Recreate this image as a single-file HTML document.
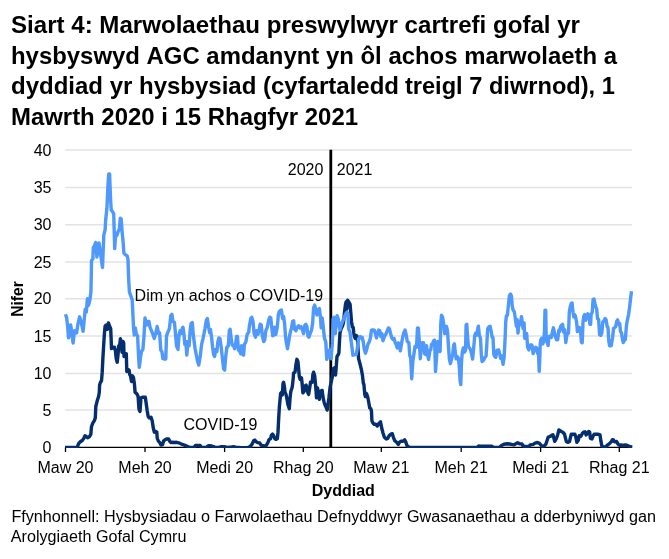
<!DOCTYPE html>
<html><head><meta charset="utf-8">
<style>
html,body{margin:0;padding:0;background:#fff;}
body{width:669px;height:559px;overflow:hidden;font-family:"Liberation Sans",sans-serif;color:#000;}
svg{display:block;will-change:transform;}
text{font-family:"Liberation Sans",sans-serif;fill:#000;font-kerning:none;}
.t{font-size:24px;font-weight:bold;}
.a{font-size:16px;}
.b{font-size:16px;font-weight:bold;}
.s{font-size:16px;}
</style></head><body>
<svg width="669" height="559" viewBox="0 0 669 559">
<rect width="669" height="559" fill="#fff"/>
<g class="t">
<text x="11" y="33" textLength="569" lengthAdjust="spacingAndGlyphs">Siart 4: Marwolaethau preswylwyr cartrefi gofal yr</text>
<text x="11" y="63.5" textLength="606" lengthAdjust="spacingAndGlyphs">hysbyswyd AGC amdanynt yn ôl achos marwolaeth a</text>
<text x="11" y="94" textLength="388" lengthAdjust="spacingAndGlyphs">dyddiad yr hysbysiad (cyfartaledd</text>
<text x="404.9" y="94" textLength="210" lengthAdjust="spacingAndGlyphs">treigl 7 diwrnod), 1</text>
<text x="11" y="124.5" textLength="347" lengthAdjust="spacingAndGlyphs">Mawrth 2020 i 15 Rhagfyr 2021</text>
</g>
<path d="M65.2 150.0H632M65.2 187.5H632M65.2 224.7H632M65.2 262.0H632M65.2 298.7H632M65.2 336.1H632M65.2 373.4H632M65.2 410.1H632" stroke="#e3e3e3" stroke-width="1.5" fill="none"/>
<path d="M65 447.3H632M65.5 447.3V452M145.0 447.3V452M224.6 447.3V452M303.3 447.3V452M381.3 447.3V452M461.2 447.3V452M540.6 447.3V452M619.3 447.3V452" stroke="#000" stroke-width="1.3" fill="none"/>
<g class="a" text-anchor="end"><text x="51.5" y="155.7">40</text><text x="51.5" y="193.2">35</text><text x="51.5" y="230.3">30</text><text x="51.5" y="267.6">25</text><text x="51.5" y="304.3">20</text><text x="51.5" y="341.7">15</text><text x="51.5" y="379.0">10</text><text x="51.5" y="415.8">5</text><text x="51.5" y="452.9">0</text></g>
<g class="a" text-anchor="middle"><text x="65.5" y="472.6">Maw 20</text><text x="145.0" y="472.6">Meh 20</text><text x="224.6" y="472.6">Medi 20</text><text x="303.3" y="472.6">Rhag 20</text><text x="381.3" y="472.6">Maw 21</text><text x="461.2" y="472.6">Meh 21</text><text x="540.6" y="472.6">Medi 21</text><text x="619.3" y="472.6">Rhag 21</text></g>
<text class="b" x="311.7" y="496" style="font-size:15.6px" textLength="63.2" lengthAdjust="spacingAndGlyphs">Dyddiad</text>
<text class="b" style="font-size:15.6px" transform="translate(22.5,299) rotate(-90)" text-anchor="middle">Nifer</text>
<path d="M330.8 149.7V447.3" stroke="#000" stroke-width="2.8" fill="none"/>
<text class="a" x="323.4" y="174.6" text-anchor="end">2020</text>
<text class="a" x="336.8" y="174.6">2021</text>
<text class="a" x="134.6" y="300.5">Dim yn achos o COVID-19</text>
<text class="a" x="183.5" y="429.7">COVID-19</text>
<clipPath id="c"><rect x="60" y="140" width="580" height="307.9"/></clipPath>
<g clip-path="url(#c)">
<path d="M65.0 447.4 77.2 447.4 78.6 443.7 80.0 442.0 82.2 440.5 83.6 438.7 85.0 435.8 86.2 436.5 87.6 437.7 89.3 436.8 90.8 434.4 91.5 426.5 92.9 422.9 94.3 420.8 95.3 417.9 95.8 406.5 97.2 400.8 98.6 396.5 99.3 392.3 99.6 385.1 100.5 382.3 101.5 380.8 102.2 372.2 102.9 357.9 103.6 346.5 104.4 333.6 105.1 326.2 106.2 325.0 107.4 329.3 108.4 322.9 109.4 325.7 110.7 328.6 111.1 337.9 111.5 348.6 112.9 347.2 114.4 347.2 115.4 350.8 116.2 358.6 117.2 362.2 118.0 355.1 118.7 345.8 119.7 345.1 120.4 338.6 121.2 342.2 122.0 352.2 123.0 341.5 123.7 342.9 124.0 356.5 125.1 353.6 126.3 353.6 126.8 371.5 128.0 369.4 129.1 370.1 129.7 374.4 130.5 375.8 131.5 381.5 132.5 375.8 133.4 377.3 134.4 383.7 135.1 392.3 136.4 393.3 137.1 394.3 138.1 396.5 139.0 409.3 140.0 411.5 141.0 397.9 142.9 397.2 145.3 397.2 146.2 403.6 147.2 410.8 148.2 416.5 149.3 417.9 151.0 417.2 152.2 420.8 153.3 428.0 154.3 432.2 155.8 431.5 156.8 432.2 157.2 438.0 158.2 440.8 159.6 442.3 161.0 445.1 162.5 444.7 163.6 441.1 165.1 439.7 166.5 439.0 168.6 439.0 169.6 441.1 170.8 442.5 172.5 442.3 174.4 442.5 176.5 442.3 178.6 442.8 180.8 443.7 182.9 444.7 185.1 445.4 187.2 446.3 189.4 447.3 192.2 447.4 194.4 447.1 195.4 445.4 200.1 445.4 201.1 447.1 203.7 447.4 206.6 447.1 208.0 446.0 209.4 445.6 211.6 446.0 213.0 446.8 213.6 446.6 215.0 447.4 218.6 447.4 220.7 446.8 222.9 446.6 225.0 446.8 227.2 447.4 229.3 447.1 231.5 447.0 233.6 446.8 235.8 447.1 238.6 447.4 240.8 447.6 247.9 447.6 250.1 446.6 251.9 444.4 253.7 440.8 254.8 440.1 256.2 441.8 258.0 442.7 259.7 443.0 261.1 445.1 263.0 445.8 265.1 446.1 266.5 445.1 268.0 442.3 269.1 439.4 270.5 438.7 271.5 435.1 272.5 434.1 273.7 435.8 274.8 438.7 275.8 439.4 277.3 438.7 278.0 432.2 278.7 417.9 279.4 406.5 280.6 393.6 281.6 392.2 282.3 395.0 283.0 383.6 283.6 382.2 284.3 385.8 285.0 392.2 286.0 394.4 286.9 398.7 287.9 404.4 289.3 408.7 290.0 398.7 290.8 391.5 292.2 387.2 293.2 378.6 293.6 372.9 295.0 372.2 296.0 364.3 296.9 359.3 297.9 361.4 298.6 368.6 299.3 376.5 300.1 379.3 301.5 377.9 302.2 384.3 302.9 392.9 304.1 391.5 305.1 385.8 306.1 385.1 306.9 387.9 307.9 392.9 308.6 394.4 309.8 387.2 310.5 382.2 311.5 381.8 312.2 382.2 312.9 374.3 313.6 372.2 314.7 375.8 315.5 384.3 316.1 391.5 316.5 397.9 317.5 387.9 318.4 392.9 319.4 399.4 320.1 392.9 321.2 390.8 322.2 390.4 323.0 397.2 324.1 402.2 325.1 405.1 326.1 407.2 327.2 410.1 328.0 404.4 329.0 397.2 330.1 387.2 331.3 381.5 332.3 377.2 333.3 368.6 334.4 367.9 335.5 375.0 336.1 368.6 337.0 356.4 338.0 355.0 338.9 353.0 339.3 344.4 340.0 332.9 341.2 328.6 342.6 325.8 343.6 321.5 344.6 311.5 345.5 304.3 346.2 301.7 346.8 309.3 347.6 300.3 348.6 301.7 350.1 304.3 350.8 312.9 351.5 321.5 352.3 326.9 353.2 327.5 353.8 332.9 354.3 336.1 355.2 338.4 356.4 335.5 357.1 336.5 357.5 340.1 358.6 358.6 360.1 364.3 361.5 370.0 362.5 375.7 363.4 383.6 363.9 384.3 364.8 394.3 365.4 396.5 366.5 393.6 367.6 396.5 368.6 401.5 369.7 407.9 370.8 408.6 371.5 411.5 371.9 420.8 372.9 423.0 374.4 424.4 375.8 424.1 377.2 426.1 378.7 423.7 380.5 421.8 381.5 427.2 383.0 433.0 384.4 437.3 386.3 439.0 387.7 438.4 389.1 435.8 390.8 434.1 392.3 433.7 393.4 437.3 394.8 440.8 396.6 442.3 398.3 444.4 399.4 442.3 400.8 441.3 403.0 441.3 404.7 439.9 405.8 442.1 407.0 445.6 409.2 447.4 477.2 447.4 478.7 445.9 480.0 446.3 492.0 446.3 493.8 447.5 499.1 447.5 501.5 445.5 503.9 444.3 507.5 443.7 511.1 444.3 514.1 444.9 515.9 443.7 517.7 442.7 519.5 443.7 521.9 443.9 523.0 445.9 526.0 446.7 529.0 446.3 530.2 444.9 533.2 444.3 535.0 443.1 537.4 442.5 539.2 443.1 541.0 445.1 542.2 446.3 544.0 445.9 545.8 444.3 547.0 440.7 548.2 437.1 550.0 436.5 551.7 435.3 552.9 434.7 553.9 438.3 554.7 441.3 556.5 438.3 557.7 434.7 558.9 429.9 560.5 430.9 561.4 431.5 562.8 432.2 564.5 434.2 565.5 438.3 566.4 441.6 568.2 442.3 569.5 441.6 570.4 437.6 571.3 434.2 572.9 434.2 574.9 434.2 575.8 436.9 576.9 442.3 578.3 440.3 579.3 435.6 580.9 436.2 582.3 433.5 583.6 432.2 585.0 431.8 586.1 434.9 587.4 433.5 588.7 431.5 589.7 432.2 590.4 438.3 592.0 438.9 593.0 436.2 594.1 434.2 596.4 434.2 598.4 434.2 600.0 434.9 600.9 440.9 601.8 445.7 603.1 447.0 605.8 447.0 607.2 445.2 609.2 443.9 611.2 441.9 612.2 439.9 613.2 439.6 614.6 441.9 616.6 441.5 617.9 443.9 619.3 445.2 621.3 445.0 623.3 445.5 625.3 445.0 627.4 445.5 629.4 446.3 631.4 446.9 632.3 447.0" stroke="#042e6e" stroke-width="3.4" fill="none" stroke-linejoin="round" stroke-linecap="butt"/>
<path d="M65.4 314.2 66.7 317.9 67.5 325.4 68.6 337.8 69.7 330.8 70.7 324.9 71.8 332.9 73.1 343.1 74.5 330.8 76.6 332.9 77.7 325.4 79.6 316.8 81.5 323.3 83.1 331.3 84.5 316.8 85.2 309.3 86.3 312.0 87.4 298.6 88.4 305.6 89.8 300.2 90.9 292.1 91.3 275.0 91.5 260.5 92.9 258.9 93.3 247.5 94.5 245.5 95.7 242.5 96.9 257.0 99.0 243.0 102.5 267.5 103.8 235.1 105.1 229.8 105.6 220.8 106.9 208.3 107.9 186.8 108.7 174.0 109.6 174.0 110.4 195.8 111.2 210.1 112.8 211.9 113.7 213.7 114.2 231.6 114.7 248.6 115.5 236.9 116.9 235.1 118.1 231.6 119.4 228.9 120.3 218.1 121.2 219.0 122.1 231.6 123.0 240.5 123.9 253.0 125.3 254.8 127.1 255.7 128.0 259.3 128.5 275.8 129.4 291.9 131.6 298.1 132.2 300.0 132.9 314.3 133.6 328.6 134.3 335.1 135.3 327.9 136.4 334.3 137.6 335.8 138.6 357.2 139.3 367.3 140.5 357.2 141.5 351.5 142.9 349.4 144.0 335.8 145.0 317.9 146.5 325.0 147.9 321.5 149.0 321.5 150.0 327.2 151.5 330.8 152.9 334.3 154.3 338.4 155.8 332.9 157.2 326.5 158.6 333.6 159.6 332.9 160.8 350.1 161.9 351.5 162.9 358.7 164.4 359.0 165.8 359.0 166.5 335.8 167.9 332.2 169.4 328.6 170.8 315.7 171.9 314.3 172.9 321.5 174.4 322.2 175.4 332.9 176.5 345.8 178.0 349.4 179.1 334.3 180.1 330.8 181.1 333.6 182.2 328.6 183.0 327.2 184.0 334.3 184.8 344.4 185.8 341.5 186.8 355.1 188.0 341.5 189.1 345.8 190.1 330.8 191.1 323.6 192.3 322.6 193.4 335.8 195.1 348.7 197.3 360.1 198.7 365.1 200.1 357.2 201.6 344.4 203.0 338.6 205.0 328.6 206.4 320.0 207.4 318.6 208.6 327.2 209.7 332.9 210.4 329.3 211.4 335.8 212.6 347.2 213.6 354.4 214.6 356.5 215.7 349.4 216.9 351.5 217.9 341.5 218.9 337.9 220.0 338.6 221.2 347.2 222.6 360.1 223.6 368.7 224.6 370.1 225.8 355.8 226.9 347.2 228.3 345.8 229.3 330.8 230.1 329.3 231.2 338.6 232.2 345.1 233.6 345.8 234.6 348.7 235.8 342.9 236.5 336.5 237.5 336.5 238.4 350.1 239.8 351.5 240.8 353.7 241.5 345.8 242.6 354.4 243.6 355.1 244.4 344.4 245.8 342.2 247.2 334.3 248.7 332.2 249.4 325.8 250.8 318.6 251.8 317.2 253.0 321.5 254.1 333.6 255.5 337.2 256.5 330.8 258.0 334.3 259.0 330.8 260.1 324.3 261.3 325.0 262.3 335.8 263.7 341.5 264.7 340.1 265.8 330.8 267.3 327.2 268.7 320.0 269.8 317.2 270.8 317.9 271.6 325.8 272.7 335.8 274.1 335.1 274.7 327.2 275.8 334.3 277.3 327.2 278.3 315.0 279.3 311.5 280.3 310.7 281.4 310.0 282.6 318.6 283.6 316.5 284.6 323.6 285.5 336.5 286.5 343.7 287.5 348.7 288.6 342.2 290.0 333.6 291.5 327.9 292.6 321.5 293.6 320.8 294.6 329.3 295.8 330.8 297.2 327.2 298.6 325.8 299.8 327.9 300.8 326.5 302.2 329.3 303.6 333.6 304.6 325.8 305.8 324.3 306.9 326.5 307.9 335.8 308.9 337.2 310.1 333.6 311.5 330.1 312.6 323.6 313.6 307.9 314.7 305.0 315.8 310.0 316.9 315.0 317.9 310.0 319.4 308.6 320.4 316.5 321.2 327.9 322.2 317.9 323.2 326.5 324.4 337.9 325.8 342.2 326.8 359.3 329.5 350.0 331.1 358.8 332.3 343.9 332.6 335.8 333.1 318.6 334.0 317.2 334.6 325.0 335.4 333.6 336.4 318.6 337.2 315.7 338.3 319.3 339.3 326.5 340.0 330.1 341.2 325.0 342.6 321.5 344.0 317.9 345.5 314.3 346.9 312.2 347.9 313.6 348.6 328.6 350.0 332.2 351.2 341.5 352.2 349.4 352.9 355.2 356.3 354.4 357.4 347.7 358.6 338.9 360.2 336.6 360.8 337.9 362.2 337.5 363.2 341.5 364.3 349.4 365.5 353.2 366.5 350.1 367.9 344.4 369.4 341.5 370.4 337.9 371.5 330.1 372.9 329.8 374.4 330.1 375.5 334.3 376.5 337.9 377.5 333.6 378.7 330.1 379.8 330.8 380.8 336.5 381.8 333.6 383.0 340.8 384.4 336.5 385.8 334.3 387.2 330.8 388.4 327.9 389.4 328.6 390.4 332.9 391.8 337.9 393.0 339.4 394.1 338.6 395.1 342.2 396.1 344.4 397.3 347.9 398.4 342.9 399.4 345.8 400.4 350.8 401.6 342.9 402.7 337.2 403.7 332.9 405.1 330.1 406.1 334.3 407.3 341.5 408.9 342.9 409.7 355.1 410.7 358.0 411.7 378.7 412.9 360.8 414.0 353.7 415.0 346.5 416.5 347.2 417.5 327.9 418.3 327.9 419.3 340.8 420.3 358.7 421.5 345.1 422.6 342.5 423.6 342.9 424.6 353.7 425.5 354.4 426.5 345.8 427.5 354.4 428.6 359.4 429.8 350.8 430.8 349.4 431.5 344.4 432.6 343.6 433.6 340.8 434.6 340.1 435.5 371.5 436.9 352.2 437.9 341.5 438.9 350.8 440.1 351.5 440.8 323.6 441.5 315.3 442.6 317.2 443.6 323.6 444.7 333.6 445.5 326.5 446.5 326.5 447.5 330.8 448.4 345.1 449.4 359.4 450.4 363.7 451.5 359.4 452.7 354.4 453.7 345.1 454.4 343.9 455.1 350.8 456.1 358.7 457.2 356.5 458.4 358.0 459.4 368.0 460.1 380.8 460.8 384.6 461.5 362.2 462.3 352.2 463.3 347.9 464.4 352.2 465.5 350.8 466.1 325.0 466.8 324.3 467.5 335.1 468.4 346.5 469.4 347.9 470.4 349.4 471.6 353.7 472.6 359.1 473.7 347.9 474.7 335.8 475.8 332.9 477.0 335.1 478.0 327.2 478.4 326.2 479.3 335.1 480.5 338.3 481.3 354.4 482.1 361.6 483.7 360.0 484.8 357.6 486.1 356.0 486.9 343.1 487.7 328.6 489.0 326.7 490.1 326.2 491.3 331.9 492.2 337.5 493.0 337.5 493.8 354.4 495.0 356.8 495.8 357.3 497.0 350.4 498.7 349.9 499.8 354.4 500.6 358.4 501.9 356.0 503.0 364.4 504.1 357.6 505.1 338.3 505.7 322.2 506.4 315.8 507.4 315.4 508.3 306.1 509.4 295.6 510.6 294.0 511.5 296.4 512.2 306.1 513.1 310.1 514.3 311.7 515.4 319.0 516.4 326.2 517.2 319.8 518.0 333.1 519.1 322.2 520.2 324.6 521.5 316.6 522.3 323.0 523.1 328.6 524.1 323.0 524.7 338.3 525.7 333.5 526.7 333.5 527.6 347.2 528.8 349.9 529.9 345.5 531.2 344.7 532.1 345.5 533.1 353.6 534.4 349.6 535.7 347.2 536.8 348.0 537.6 353.6 538.4 351.2 539.2 371.3 539.7 360.8 540.2 344.7 540.8 339.9 541.6 338.3 542.8 343.9 543.7 341.5 544.5 330.3 545.0 310.1 545.7 310.1 546.2 338.3 547.3 343.1 548.1 345.5 548.9 336.7 550.2 335.9 551.3 337.5 552.4 331.9 553.4 327.8 554.5 332.7 555.3 336.7 556.6 339.9 557.7 339.9 558.9 329.9 559.7 331.5 560.5 326.7 561.6 325.1 562.6 324.3 563.7 332.3 564.8 329.9 565.8 342.5 566.9 334.7 568.5 333.1 569.3 312.2 570.1 307.4 571.3 303.3 572.1 302.9 573.0 312.2 573.8 317.0 574.5 314.6 575.4 316.2 576.6 321.9 577.4 331.5 578.7 330.7 579.3 327.5 580.3 328.3 581.4 342.0 582.2 342.8 583.0 321.9 583.8 316.2 584.6 314.6 585.7 320.3 586.7 317.0 587.8 313.8 589.0 314.6 589.9 324.3 590.6 324.3 591.1 314.6 592.2 312.2 593.1 299.3 594.0 299.0 595.1 304.2 595.9 307.4 596.7 309.0 597.5 318.6 598.6 319.4 599.6 334.7 600.7 335.5 601.8 333.1 602.8 321.9 603.9 321.1 605.1 318.6 606.0 319.4 607.2 326.7 608.0 327.5 608.8 341.2 609.6 345.7 611.2 345.7 612.5 338.0 613.6 328.3 614.7 327.5 615.7 326.7 616.8 321.1 617.6 319.9 618.9 324.3 619.7 323.5 620.5 331.5 621.6 333.1 622.5 339.6 623.3 342.5 624.4 340.4 625.3 339.6 626.5 325.1 627.3 320.3 628.6 314.6 629.7 306.6 630.5 299.3 631.5 291.3" stroke="#4f99fc" stroke-width="3.4" fill="none" stroke-linejoin="round" stroke-linecap="butt"/>
</g>
<text class="s" x="11.4" y="521.5" textLength="644.6" lengthAdjust="spacingAndGlyphs">Ffynhonnell: Hysbysiadau o Farwolaethau Defnyddwyr Gwasanaethau a dderbyniwyd gan</text>
<text class="s" x="10.8" y="541.9" textLength="175.6" lengthAdjust="spacingAndGlyphs">Arolygiaeth Gofal Cymru</text>
</svg>
</body></html>
